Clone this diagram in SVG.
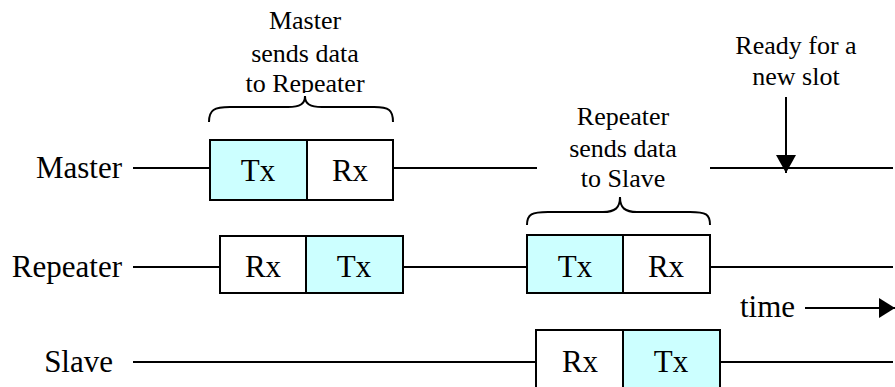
<svg xmlns="http://www.w3.org/2000/svg" width="895" height="387" viewBox="0 0 895 387">
<style>
  .lbl{font-family:"Liberation Serif","Times New Roman",serif;font-size:31px;fill:#000}
  .note{font-family:"Liberation Serif","Times New Roman",serif;font-size:26px;fill:#000;text-anchor:middle}
  .cell{font-family:"Liberation Serif","Times New Roman",serif;font-size:31px;fill:#000;text-anchor:middle}
  .tx{fill:#CCFFFF;stroke:#000;stroke-width:2}
  .rx{fill:#FFFFFF;stroke:#000;stroke-width:2}
  .ln{stroke:#000;stroke-width:2;fill:none}
  .brace{stroke:#000;stroke-width:2;fill:none}
</style>
<defs>
  <marker id="ah" viewBox="0 0 18 20" refX="18" refY="10" markerWidth="18" markerHeight="20" markerUnits="userSpaceOnUse" orient="auto">
    <path d="M0,0 L18,10 L0,20 Z" fill="#000"/>
  </marker>
  <marker id="ah2" viewBox="0 0 16 20" refX="16" refY="10" markerWidth="16" markerHeight="20" markerUnits="userSpaceOnUse" orient="auto">
    <path d="M0,0 L16,10 L0,20 Z" fill="#000"/>
  </marker>
  <clipPath id="c1"><rect x="180" y="0" width="260" height="93"/></clipPath>
  <clipPath id="c2"><rect x="500" y="90" width="260" height="98"/></clipPath>
</defs>
<rect width="895" height="387" fill="#fff"/>

<g id="connectors">
  <line class="ln" x1="133" y1="168" x2="210" y2="168"/>
  <line class="ln" x1="393" y1="168" x2="537" y2="168"/>
  <line class="ln" x1="710" y1="168" x2="893" y2="168"/>
  <line class="ln" x1="133" y1="267" x2="220" y2="267"/>
  <line class="ln" x1="403" y1="267" x2="527" y2="267"/>
  <line class="ln" x1="710" y1="267" x2="893" y2="267"/>
  <line class="ln" x1="133" y1="362" x2="536" y2="362"/>
  <line class="ln" x1="720" y1="362" x2="893" y2="362"/>
  <line class="ln" x1="786" y1="97" x2="786" y2="173" marker-end="url(#ah)"/>
  <line class="ln" x1="805" y1="308" x2="895" y2="308" marker-end="url(#ah2)"/>
</g>

<g id="label-master"><text class="lbl" x="122" y="178" text-anchor="end">Master</text></g>
<g id="label-repeater"><text class="lbl" x="122" y="277" text-anchor="end">Repeater</text></g>
<g id="label-slave"><text class="lbl" x="113" y="372" text-anchor="end">Slave</text></g>

<g id="master-slot">
  <rect class="tx" x="210" y="140" width="97" height="60"/>
  <rect class="rx" x="307" y="140" width="86" height="60"/>
  <text class="cell" x="258" y="181">Tx</text>
  <text class="cell" x="350" y="181">Rx</text>
</g>

<g id="repeater-slot1">
  <rect class="rx" x="220" y="236" width="86" height="57"/>
  <rect class="tx" x="306" y="236" width="97" height="57"/>
  <text class="cell" x="263" y="277">Rx</text>
  <text class="cell" x="354" y="277">Tx</text>
</g>

<g id="repeater-slot2">
  <rect class="tx" x="527" y="235" width="96" height="58"/>
  <rect class="rx" x="623" y="235" width="87" height="58"/>
  <text class="cell" x="575" y="277">Tx</text>
  <text class="cell" x="666" y="277">Rx</text>
</g>

<g id="slave-slot">
  <rect class="rx" x="536" y="330" width="87" height="60"/>
  <rect class="tx" x="623" y="330" width="97" height="60"/>
  <text class="cell" x="580" y="372">Rx</text>
  <text class="cell" x="671" y="372">Tx</text>
</g>

<g id="note-master">
  <g clip-path="url(#c1)">
    <text class="note" x="305" y="29">Master</text>
    <text class="note" x="305" y="62">sends data</text>
    <text class="note" x="305" y="92">to Repeater</text>
  </g>
  <path class="brace" d="M209,122 C209,110 214,107 230,107 L288,107 C300,107 305,104 305,96 C305,104 310,107 322,107 L374,107 C389,107 393,110 393,122"/>
</g>

<g id="note-repeater">
  <g clip-path="url(#c2)">
    <text class="note" x="623" y="125">Repeater</text>
    <text class="note" x="623" y="157">sends data</text>
    <text class="note" x="623" y="187">to Slave</text>
  </g>
  <path class="brace" d="M527,225 C527,214 532,212 548,212 L603,212 C615,212 620,208 620,197 C620,208 625,212 637,212 L690,212 C706,212 710,214 710,225"/>
</g>

<g id="note-ready">
  <text class="note" x="796" y="54">Ready for a</text>
  <text class="note" x="796" y="85">new slot</text>
</g>

<g id="label-time"><text class="lbl" x="740" y="317">time</text></g>
</svg>
